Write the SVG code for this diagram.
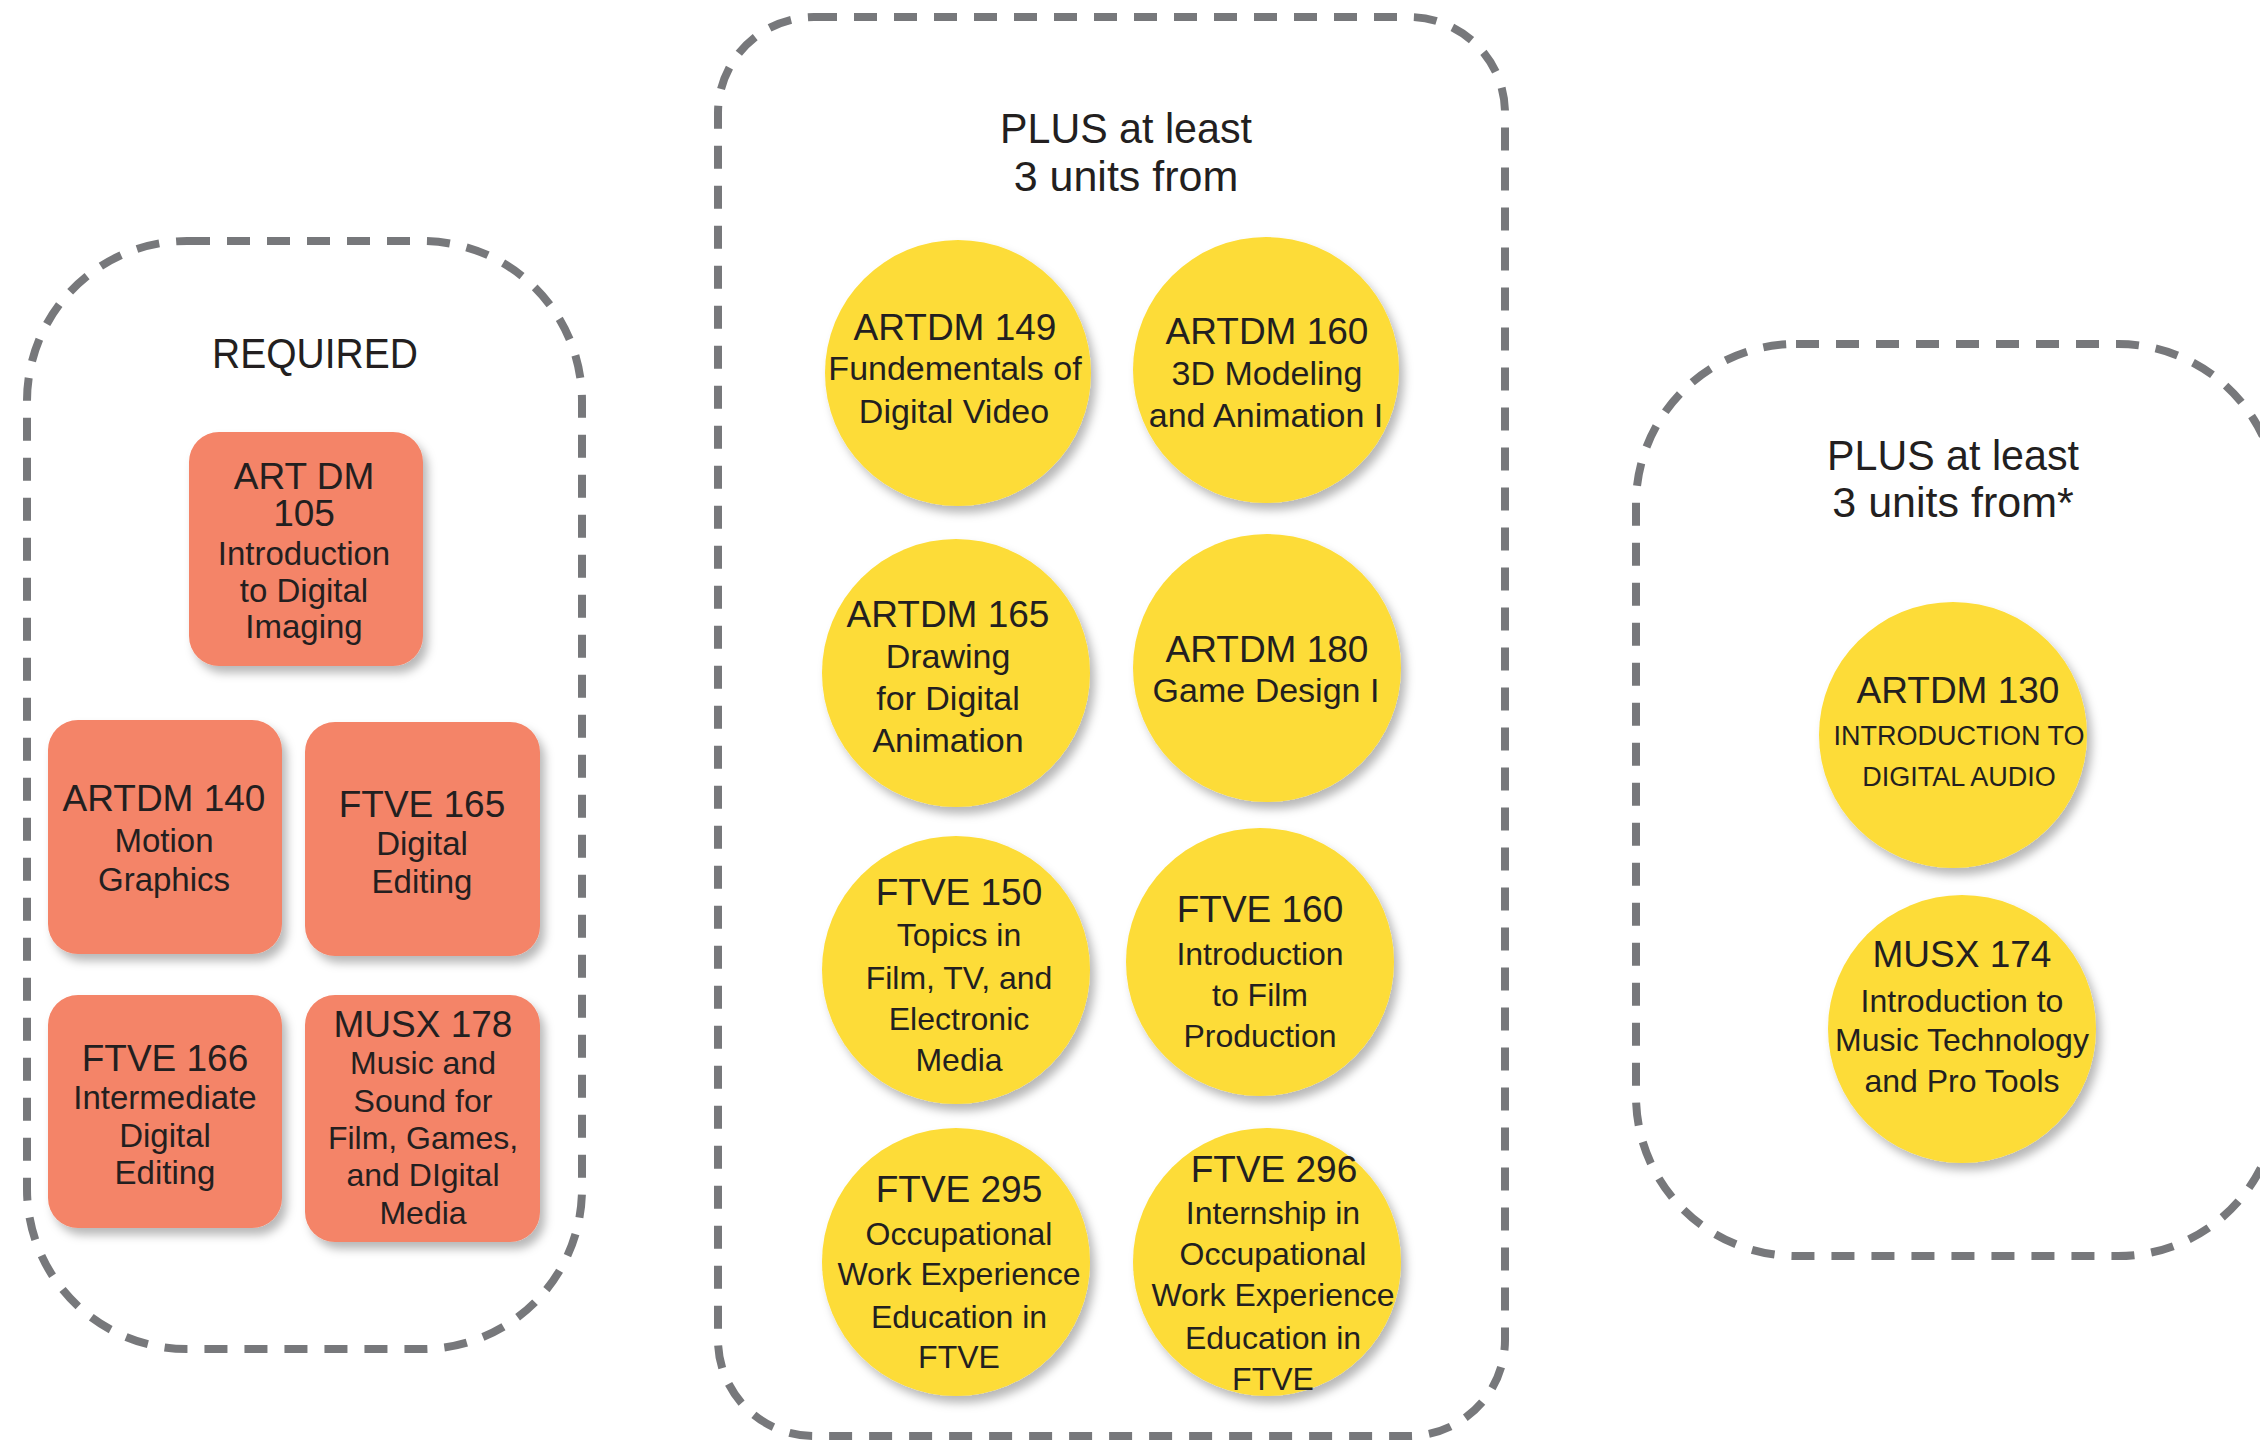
<svg xmlns="http://www.w3.org/2000/svg" width="2260" height="1442" viewBox="0 0 2260 1442">
<defs>
<filter id="sh" x="-20%" y="-20%" width="150%" height="150%">
<feDropShadow dx="5" dy="7" stdDeviation="5" flood-color="#000" flood-opacity="0.28"/>
</filter>
</defs>
<style>
.grp{fill:none;stroke:#77787b;stroke-width:8;stroke-dasharray:23 17}
.box{fill:#f48468;filter:url(#sh)}
.circ{fill:#fddc37;filter:url(#sh)}
text{font-family:"Liberation Sans",Arial,sans-serif;fill:#231f20;text-anchor:middle}
.hd{font-size:43px}
.t{font-size:37px}
.b{font-size:32px}
.bl{font-size:33px}
.bm{font-size:34px}
.cap{font-size:27px}
</style>
<rect width="2260" height="1442" fill="#fff"/>
<g id="groups">
<rect id="g-required" class="grp" x="27" y="241" width="555" height="1108" rx="160"/>
<rect id="g-plus1" class="grp" x="718" y="17" width="787" height="1419" rx="96"/>
<rect id="g-plus2" class="grp" x="1636" y="344" width="642" height="912" rx="160"/>
</g>
<g id="titles">
<text class="hd" x="315" y="368" textLength="206" lengthAdjust="spacingAndGlyphs">REQUIRED</text>
<text class="hd" x="1126" y="143" textLength="252" lengthAdjust="spacingAndGlyphs">PLUS at least</text>
<text class="hd" x="1126" y="191">3 units from</text>
<text class="hd" x="1953" y="470" textLength="252" lengthAdjust="spacingAndGlyphs">PLUS at least</text>
<text class="hd" x="1953" y="517">3 units from*</text>
</g>
<g id="connectors"></g>
<g id="artdm105">
<rect class="box" x="189" y="432" width="234" height="234" rx="30"/>
<text class="t" x="304" y="489">ART DM</text>
<text class="t" x="304" y="526">105</text>
<text class="bl" x="304" y="565">Introduction</text>
<text class="bl" x="304" y="602">to Digital</text>
<text class="bl" x="304" y="638">Imaging</text>
</g>
<g id="artdm140">
<rect class="box" x="48" y="720" width="234" height="234" rx="30"/>
<text class="t" x="164" y="811">ARTDM 140</text>
<text class="bl" x="164" y="852">Motion</text>
<text class="bl" x="164" y="891">Graphics</text>
</g>
<g id="ftve165">
<rect class="box" x="305" y="722" width="235" height="234" rx="30"/>
<text class="t" x="422" y="817">FTVE 165</text>
<text class="bl" x="422" y="855">Digital</text>
<text class="bl" x="422" y="893">Editing</text>
</g>
<g id="ftve166">
<rect class="box" x="48" y="995" width="234" height="233" rx="30"/>
<text class="t" x="165" y="1071">FTVE 166</text>
<text class="bl" x="165" y="1109">Intermediate</text>
<text class="bl" x="165" y="1147">Digital</text>
<text class="bl" x="165" y="1184">Editing</text>
</g>
<g id="musx178">
<rect class="box" x="305" y="995" width="235" height="247" rx="30"/>
<text class="t" x="423" y="1037">MUSX 178</text>
<text class="b" x="423" y="1074">Music and</text>
<text class="b" x="423" y="1112">Sound for</text>
<text class="b" x="423" y="1149">Film, Games,</text>
<text class="b" x="423" y="1186">and DIgital</text>
<text class="b" x="423" y="1224">Media</text>
</g>
<g id="artdm149">
<circle class="circ" cx="958" cy="373" r="133"/>
<text class="t" x="955" y="340">ARTDM 149</text>
<text class="bm" x="955" y="380">Fundementals of</text>
<text class="bm" x="954" y="423">Digital Video</text>
</g>
<g id="artdm160">
<circle class="circ" cx="1266" cy="370" r="133"/>
<text class="t" x="1267" y="344">ARTDM 160</text>
<text class="bm" x="1267" y="385">3D Modeling</text>
<text class="bm" x="1266" y="427">and Animation I</text>
</g>
<g id="artdm165">
<circle class="circ" cx="956" cy="673" r="134"/>
<text class="t" x="948" y="627">ARTDM 165</text>
<text class="bm" x="948" y="668">Drawing</text>
<text class="bm" x="948" y="710">for Digital</text>
<text class="bm" x="948" y="752">Animation</text>
</g>
<g id="artdm180">
<circle class="circ" cx="1267" cy="668" r="134"/>
<text class="t" x="1267" y="662">ARTDM 180</text>
<text class="bm" x="1266" y="702">Game Design I</text>
</g>
<g id="ftve150">
<circle class="circ" cx="956" cy="970" r="134"/>
<text class="t" x="959" y="905">FTVE 150</text>
<text class="b" x="959" y="946">Topics in</text>
<text class="b" x="959" y="989">Film, TV, and</text>
<text class="b" x="959" y="1030">Electronic</text>
<text class="b" x="959" y="1071">Media</text>
</g>
<g id="ftve160">
<circle class="circ" cx="1260" cy="962" r="134"/>
<text class="t" x="1260" y="922">FTVE 160</text>
<text class="b" x="1260" y="965">Introduction</text>
<text class="b" x="1260" y="1006">to Film</text>
<text class="b" x="1260" y="1047">Production</text>
</g>
<g id="ftve295">
<circle class="circ" cx="956" cy="1262" r="134"/>
<text class="t" x="959" y="1202">FTVE 295</text>
<text class="b" x="959" y="1245">Occupational</text>
<text class="b" x="959" y="1285">Work Experience</text>
<text class="b" x="959" y="1328">Education in</text>
<text class="b" x="959" y="1368">FTVE</text>
</g>
<g id="ftve296">
<circle class="circ" cx="1267" cy="1262" r="134"/>
<text class="t" x="1274" y="1182">FTVE 296</text>
<text class="b" x="1273" y="1224">Internship in</text>
<text class="b" x="1273" y="1265">Occupational</text>
<text class="b" x="1273" y="1306">Work Experience</text>
<text class="b" x="1273" y="1349">Education in</text>
<text class="b" x="1273" y="1390">FTVE</text>
</g>
<g id="artdm130">
<ellipse class="circ" cx="1953" cy="735" rx="134" ry="133"/>
<text class="t" x="1958" y="703">ARTDM 130</text>
<text class="cap" x="1959" y="745">INTRODUCTION TO</text>
<text class="cap" x="1959" y="786">DIGITAL AUDIO</text>
</g>
<g id="musx174">
<circle class="circ" cx="1962" cy="1029" r="134"/>
<text class="t" x="1962" y="967">MUSX 174</text>
<text class="b" x="1962" y="1012">Introduction to</text>
<text class="b" x="1962" y="1051">Music Technology</text>
<text class="b" x="1962" y="1092">and Pro Tools</text>
</g>
</svg>
